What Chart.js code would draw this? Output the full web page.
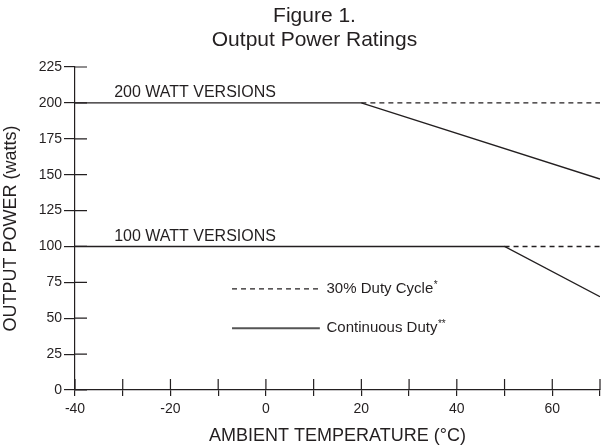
<!DOCTYPE html>
<html>
<head>
<meta charset="utf-8">
<script src="https://cdn.jsdelivr.net/npm/chart.js@4/dist/chart.umd.min.js"></script>
<style>
  html, body { margin: 0; padding: 0; background: #fff; }
  #wrap { width: 605px; height: 447px; }
</style>
</head>
<body>
<div id="wrap"><canvas id="chart" width="605" height="447"></canvas></div>
<script>
// temperatures (deg C) and output power (watts)
const temp200Cont = [-40, 20, 70];
const power200Cont = [200, 200, 147];
const temp200Duty = [20, 70];
const power200Duty = [200, 200];

const temp100Cont = [-40, 50, 70];
const power100Cont = [100, 100, 65];
const temp100Duty = [50, 70];
const power100Duty = [100, 100];

const xLabelled = [-40, -20, 0, 20, 40, 60];
const titleLines = ['Figure 1.', 'Output Power Ratings'];

const ink = '#231f20';
const fontFamily = '"Liberation Sans", Arial, Helvetica, sans-serif';

const toPoints = (xs, ys) => xs.map((x, i) => ({ x: x, y: ys[i] }));

const lineStyle = {
  borderColor: ink,
  borderWidth: 1.4,
  pointRadius: 0,
  tension: 0,
  fill: false
};

// title, ticks that cross the axis line (inside half), text labels and key
const extras = {
  id: 'extras',
  afterDraw(chart) {
    const ctx = chart.ctx;
    const xs = chart.scales.x;
    const ys = chart.scales.y;
    const x0 = xs.left;
    const y0 = ys.bottom;
    ctx.save();

    // title sits a little right of the canvas centre in the original
    ctx.fillStyle = ink;
    ctx.font = '21px ' + fontFamily;
    ctx.textAlign = 'center';
    ctx.textBaseline = 'middle';
    const cx = (chart.width + 24) / 2;
    titleLines.forEach((t, i) => ctx.fillText(t, cx, 16 + i * 24));

    ctx.strokeStyle = ink;
    ctx.lineWidth = 1.2;
    ctx.beginPath();
    xs.ticks.forEach(t => {
      const px = xs.getPixelForValue(t.value);
      ctx.moveTo(px, y0);
      ctx.lineTo(px, y0 - 11);
    });
    ys.ticks.forEach(t => {
      const py = ys.getPixelForValue(t.value);
      ctx.moveTo(x0, py);
      ctx.lineTo(x0 + 12, py);
    });
    ctx.stroke();

    // series labels
    ctx.font = '16px ' + fontFamily;
    ctx.textAlign = 'left';
    ctx.textBaseline = 'bottom';
    ctx.fillText('200 WATT VERSIONS', xs.getPixelForValue(-31.8), ys.getPixelForValue(200) - 2);
    ctx.fillText('100 WATT VERSIONS', xs.getPixelForValue(-31.8), ys.getPixelForValue(100) - 2);

    // key
    const kx1 = xs.getPixelForValue(-7.1);
    const kx2 = xs.getPixelForValue(11.3);
    const tx = xs.getPixelForValue(12.7);
    const yDash = ys.getPixelForValue(70.4);
    const ySolid = ys.getPixelForValue(43);

    ctx.lineWidth = 1.2;
    ctx.setLineDash([5, 4]);
    ctx.beginPath();
    ctx.moveTo(kx1, yDash);
    ctx.lineTo(kx2, yDash);
    ctx.stroke();
    ctx.setLineDash([]);
    ctx.strokeStyle = '#555';
    ctx.lineWidth = 2;
    ctx.beginPath();
    ctx.moveTo(kx1, ySolid);
    ctx.lineTo(kx2, ySolid);
    ctx.stroke();

    ctx.textBaseline = 'middle';
    const keyText = (label, stars, y) => {
      ctx.font = '15px ' + fontFamily;
      ctx.fillText(label, tx, y);
      const w = ctx.measureText(label).width;
      ctx.font = '10px ' + fontFamily;
      ctx.fillText(stars, tx + w + 0.5, y - 4);
    };
    keyText('30% Duty Cycle', '*', yDash);
    keyText('Continuous Duty', '**', ySolid);
    ctx.restore();
  }
};

new Chart(document.getElementById('chart').getContext('2d'), {
  type: 'line',
  data: {
    datasets: [
      Object.assign({ label: '200 W continuous', data: toPoints(temp200Cont, power200Cont) }, lineStyle),
      Object.assign({ label: '200 W 30% duty', data: toPoints(temp200Duty, power200Duty), borderDash: [5, 4] }, lineStyle),
      Object.assign({ label: '100 W continuous', data: toPoints(temp100Cont, power100Cont) }, lineStyle),
      Object.assign({ label: '100 W 30% duty', data: toPoints(temp100Duty, power100Duty), borderDash: [5, 4] }, lineStyle)
    ]
  },
  options: {
    responsive: false,
    animation: false,
    layout: { padding: { left: 0, right: 2, top: 67, bottom: 0 } },
    plugins: {
      legend: { display: false },
      tooltip: { enabled: false },
      title: { display: false }
    },
    scales: {
      x: {
        type: 'linear',
        min: -40,
        max: 70,
        afterFit(scale) { scale.height = 57; },
        border: { display: true, color: ink, width: 1.2 },
        grid: { drawOnChartArea: false, drawTicks: true, tickLength: 6, color: ink, lineWidth: 1.2 },
        ticks: {
          stepSize: 10,
          autoSkip: false,
          maxRotation: 0,
          padding: 5,
          color: ink,
          font: { family: fontFamily, size: 14 },
          callback: v => xLabelled.includes(v) ? String(v) : ''
        },
        title: {
          display: true,
          text: 'AMBIENT TEMPERATURE (°C)',
          color: ink,
          font: { family: fontFamily, size: 18 },
          padding: { top: 0, bottom: 0 }
        }
      },
      y: {
        min: 0,
        max: 225,
        afterFit(scale) { scale.width = 75; },
        border: { display: true, color: ink, width: 1.2 },
        grid: { drawOnChartArea: false, drawTicks: true, tickLength: 11, color: ink, lineWidth: 1.2 },
        ticks: {
          stepSize: 25,
          padding: 2,
          color: ink,
          font: { family: fontFamily, size: 14 }
        },
        title: {
          display: true,
          text: 'OUTPUT POWER (watts)',
          color: ink,
          font: { family: fontFamily, size: 18 },
          padding: { top: 0, bottom: 0 }
        }
      }
    }
  },
  plugins: [extras]
});
</script>
</body>
</html>
